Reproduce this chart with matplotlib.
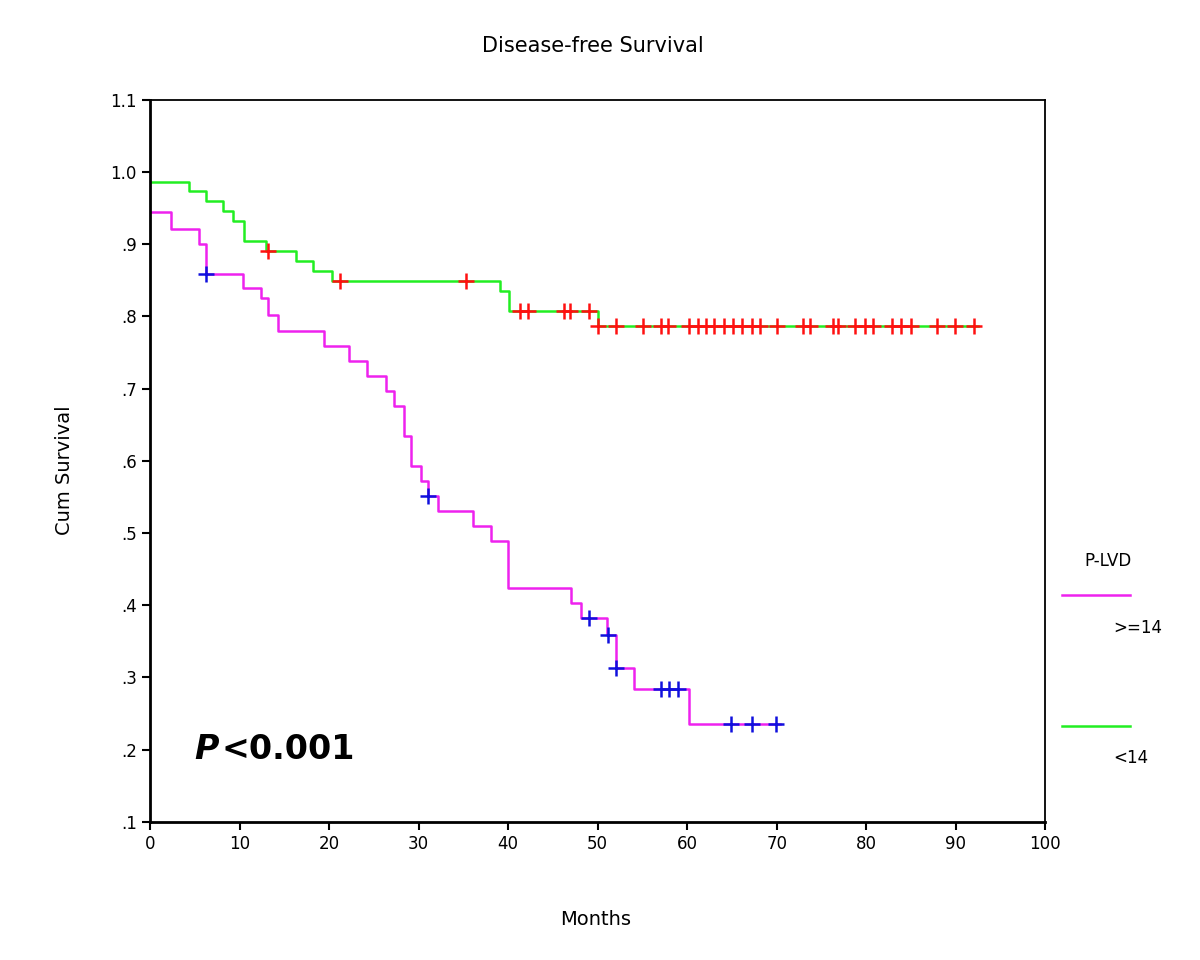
#Kaplan-Meier style chart: disease-free survival by P-LVD group
import numpy as np
import matplotlib
matplotlib.use('Agg')
import matplotlib.pyplot as plt
from matplotlib.lines import Line2D

#group >=14 (magenta): step times and survival after each step
hi_t = [0, 2.3, 5.5, 6.2, 10.4, 12.4, 13.2, 14.3, 19.4, 22.2, 24.2, 26.4, 27.3, 28.4,
        29.2, 30.3, 31.0, 32.2, 36.1, 38.1, 40.0, 47.0, 48.2, 51.1, 52.0, 54.1, 60.2]
hi_s = [0.944, 0.921, 0.900, 0.859, 0.839, 0.825, 0.802, 0.780, 0.759, 0.738, 0.717, 0.697, 0.676, 0.634,
        0.593, 0.572, 0.551, 0.531, 0.510, 0.489, 0.424, 0.403, 0.382, 0.359, 0.313, 0.284, 0.235]
hi_end = 70.4
hi_cens = [6.3, 31.1, 49.0, 51.2, 52.0, 57.1, 58.0, 59.0, 64.9, 67.2, 69.9]

#group <14 (green)
lo_t = [0, 4.4, 6.3, 8.2, 9.3, 10.5, 13.0, 16.3, 18.2, 20.3, 39.1, 40.1, 50.0]
lo_s = [0.986, 0.974, 0.960, 0.946, 0.932, 0.904, 0.891, 0.877, 0.863, 0.849, 0.835, 0.807, 0.787]
lo_end = 92.5
lo_cens = [13.2, 21.2, 35.3, 41.3, 42.2, 46.2, 46.9, 49.0, 50.1, 52.1, 55.1, 57.1, 57.9, 60.2,
           61.2, 62.1, 63.0, 64.1, 65.1, 66.1, 67.2, 68.1, 70.0, 73.0, 73.7, 76.3, 76.9, 78.8,
           79.9, 80.8, 82.9, 83.9, 85.0, 87.9, 89.9, 92.1]

yticks = [0.1, 0.2, 0.3, 0.4, 0.5, 0.6, 0.7, 0.8, 0.9, 1.0, 1.1]
ytick_labels = ['.1', '.2', '.3', '.4', '.5', '.6', '.7', '.8', '.9', '1.0', '1.1']
xticks = np.arange(0, 101, 10)

magenta = '#ee22ee'
green = '#22ee22'


def surv_at(t, times, surv):
    #survival value just after time t
    idx = np.searchsorted(times, t, side='right') - 1
    return surv[idx]


fig = plt.figure(figsize=(12, 9.6), dpi=100)
ax = fig.add_axes([0.125, 0.144, 0.746, 0.752])

#curves
ax.step(hi_t + [hi_end], hi_s + [hi_s[-1]], where='post', color=magenta, lw=1.8)
ax.step(lo_t + [lo_end], lo_s + [lo_s[-1]], where='post', color=green, lw=1.8)

#censor marks
ax.plot(hi_cens, [surv_at(c, hi_t, hi_s) for c in hi_cens], '+', color='#1010dd',
        ms=12, mew=1.8, linestyle='none')
ax.plot(lo_cens, [surv_at(c, lo_t, lo_s) for c in lo_cens], '+', color='#ff1010',
        ms=12, mew=1.8, linestyle='none')

ax.set_xlim(0, 100)
ax.set_ylim(0.1, 1.1)
ax.set_xticks(xticks)
ax.set_yticks(yticks)
ax.set_yticklabels(ytick_labels)
ax.tick_params(direction='out', length=6, width=1.5, labelsize=12)
for sp in ax.spines.values():
    sp.set_linewidth(1.3)
ax.spines['left'].set_linewidth(2)
ax.spines['bottom'].set_linewidth(2)

#titles
fig.text(0.494, 0.952, 'Disease-free Survival', ha='center', va='center', fontsize=15)
fig.text(0.054, 0.51, 'Cum Survival', ha='center', va='center', rotation=90, fontsize=14)
fig.text(0.496, 0.042, 'Months', ha='center', va='center', fontsize=14)

#p-value text
ax.text(5.0, 0.2, 'P', fontsize=24, fontweight='bold', style='italic', ha='left', va='center')
ax.text(8.0, 0.2, '<0.001', fontsize=24, fontweight='bold', ha='left', va='center')

#legend outside, drawn by hand
fig.text(0.923, 0.416, 'P-LVD', ha='center', va='center', fontsize=12)
fig.add_artist(Line2D([0.885, 0.942], [0.380, 0.380], color=magenta, lw=1.8))
fig.text(0.928, 0.346, '>=14', ha='left', va='center', fontsize=12)
fig.add_artist(Line2D([0.885, 0.942], [0.244, 0.244], color=green, lw=1.8))
fig.text(0.928, 0.210, '<14', ha='left', va='center', fontsize=12)

plt.savefig('out.png', dpi=100)
